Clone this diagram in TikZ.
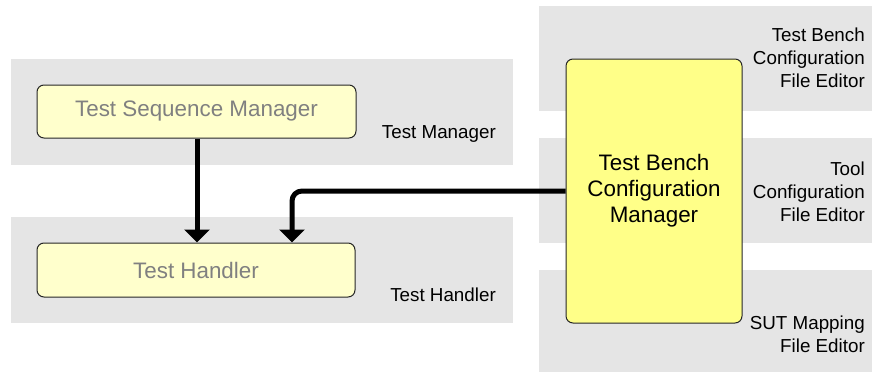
\documentclass[tikz,border=0pt]{standalone}
\usepackage{fontspec}
\setmainfont{Liberation Sans}
\usetikzlibrary{arrows.meta}
\definecolor{panelgray}{HTML}{E5E5E5}
\definecolor{paleyellow}{HTML}{FFFFCC}
\definecolor{brightyellow}{HTML}{FFFF88}
\definecolor{dimtext}{HTML}{808080}
\tikzset{
  panel/.style={fill=panelgray},
  component/.style={draw=black!85, line width=1pt, rounded corners=7pt,
    inner sep=0pt, align=center, font=\fontsize{22.4}{26}\selectfont},
  minorcomp/.style={component, fill=paleyellow, text=dimtext},
  majorcomp/.style={component, fill=brightyellow, text=black},
  layerlabel/.style={anchor=east, inner sep=0pt, align=right,
    font=\fontsize{18.8}{23}\selectfont},
  conn/.style={line width=5pt, rounded corners=10pt,
    -{Triangle[width=25pt,length=13pt]}},
}
\begin{document}
\begin{tikzpicture}[x=1pt,y=-1pt]
\useasboundingbox (0,0) rectangle (872,372);

% layer panels
\fill[panel] (11,59) rectangle (513,165);
\fill[panel] (11,217) rectangle (513,323);
\fill[panel] (539,6) rectangle (872,111);
\fill[panel] (539,138) rectangle (872,243);
\fill[panel] (539,270) rectangle (872,372);

% layer labels
\node[layerlabel] (lblmgr) at (496,134) {Test Manager};
\node[layerlabel] (lblhdl) at (496,295) {Test Handler};
\node[layerlabel] (lbltb) at (865,58) {Test Bench\\Configuration\\File Editor};
\node[layerlabel] (lbltool) at (865,192) {Tool\\Configuration\\File Editor};
\node[layerlabel] (lblsut) at (865,334) {SUT Mapping\\File Editor};

% components
\node[minorcomp, minimum width=319pt, minimum height=53pt] (tsm) at (196.5,111.5) {Test Sequence Manager};
\node[minorcomp, minimum width=318pt, minimum height=54pt] (th) at (196,270) {Test Handler};
\node[majorcomp, minimum width=176pt, minimum height=264pt] (tbcm) at (654,191) {Test Bench\\Configuration\\Manager};

% connectors
\coordinate (leftx) at (197,0);
\coordinate (rightx) at (292,0);
\draw[conn] (tsm.south -| leftx) -- (th.north -| leftx);
\draw[conn] (tbcm.west) -| (th.north -| rightx);
\end{tikzpicture}
\end{document}
